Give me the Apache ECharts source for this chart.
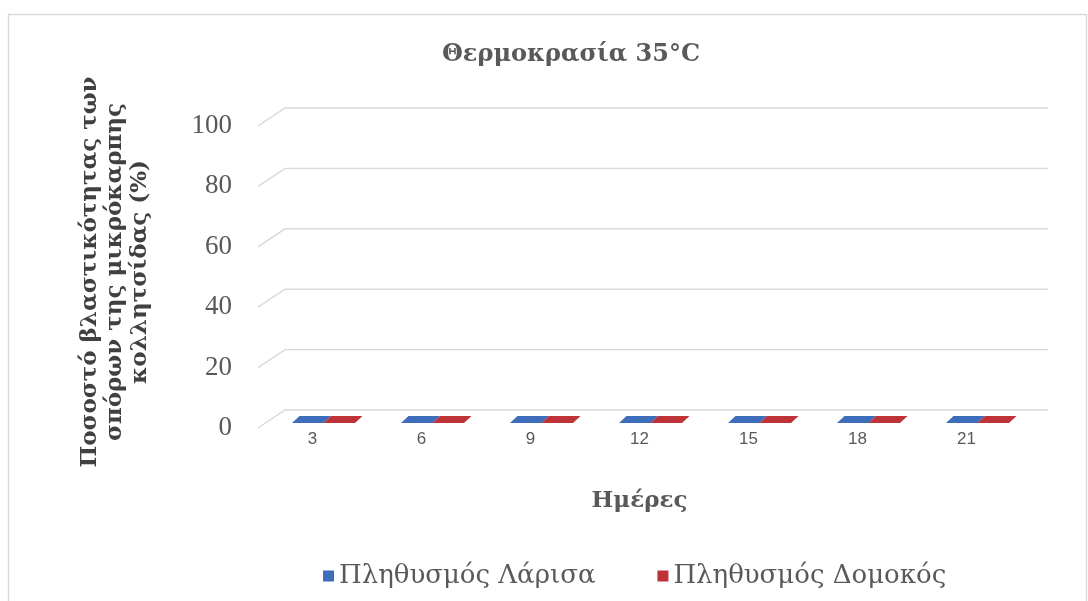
<!DOCTYPE html>
<html><head><meta charset="utf-8">
<script src="https://cdn.jsdelivr.net/npm/echarts@6/dist/echarts.min.js"></script>
<style>html,body{margin:0;padding:0;background:#fff}#c{width:1088px;height:601px}</style>
</head><body><div id="c"></div>
<script>
// ---- data ----
const categories = ['3', '6', '9', '12', '15', '18', '21'];
const seriesNames = ['Πληθυσμός Λάρισα', 'Πληθυσμός Δομοκός'];
const larisa = [0, 0, 0, 0, 0, 0, 0];
const domokos = [0, 0, 0, 0, 0, 0, 0];
const yTicks = [0, 20, 40, 60, 80, 100];
const titleText = 'Θερμοκρασία 35°C';
const xName = 'Ημέρες';
const yNameLines = ['Ποσοστό βλαστικότητας των', 'σπόρων της μικρόκαρπης', 'κολλητσίδας (%)'];

// ---- style ----
const colors = ['#3d6dbb', '#bd3338'];
const DEPTH_X = 27, DEPTH_Y = -18;   // back wall offset (pseudo 3D)
const BAR_W = 31.5;
const BAR_FRONT = [11, -5], BAR_BACK = [18.5, -12];
const GRID_COLOR = '#d9d9d9';
const TXT = '#595959';

const chart = echarts.init(document.getElementById('c'));

function gridRender(params, api) {
  const cs = params.coordSys;
  const y = api.coord([0, api.value(0)])[1];
  const x0 = cs.x;
  return {
    type: 'polyline',
    shape: { points: [[x0, y], [x0 + DEPTH_X, y + DEPTH_Y], [x0 + cs.width + DEPTH_X, y + DEPTH_Y]] },
    style: { stroke: GRID_COLOR, lineWidth: 1.4, fill: null },
    silent: true
  };
}

function barRender(sIdx) {
  return function (params, api) {
    const i = api.value(0), v = api.value(1);
    const pv = api.coord([i, v]);
    const p0 = api.coord([i, 0]);
    const cx = pv[0];
    const xl = sIdx === 0 ? cx - BAR_W : cx;
    const xr = xl + BAR_W;
    const col = colors[sIdx];
    const yTop = pv[1], yBase = p0[1];
    const fx = BAR_FRONT[0], fy = BAR_FRONT[1], bx = BAR_BACK[0], by = BAR_BACK[1];
    const children = [];
    if (yBase - yTop > 0.5) {
      children.push({
        type: 'polygon',
        shape: { points: [[xl + fx, yTop + fy], [xr + fx, yTop + fy], [xr + fx, yBase + fy], [xl + fx, yBase + fy]] },
        style: { fill: col }
      });
    }
    children.push({
      type: 'polygon',
      shape: { points: [[xl + fx, yTop + fy], [xr + fx, yTop + fy], [xr + bx, yTop + by], [xl + bx, yTop + by]] },
      style: { fill: col }
    });
    return { type: 'group', children };
  };
}

const option = {
  animation: false,
  backgroundColor: '#ffffff',
  title: {
    text: titleText, left: 566, top: 38, textAlign: 'center',
    textStyle: { fontFamily: 'DejaVu Serif', fontWeight: 'bold', fontSize: 24, color: TXT }
  },
  legend: {
    left: 318, top: 558, itemWidth: 11, itemHeight: 11, itemGap: 62, icon: 'rect',
    data: seriesNames,
    textStyle: { fontFamily: 'DejaVu Serif', fontSize: 26, color: TXT }
  },
  grid: { left: 258, right: 67, top: 126, bottom: 173 },
  xAxis: {
    type: 'category', data: categories, boundaryGap: true,
    axisLine: { show: false }, axisTick: { show: false },
    axisLabel: { margin: 3, fontFamily: 'Liberation Sans', fontSize: 17, color: TXT },
    name: xName, nameLocation: 'middle', nameGap: 62,
    nameTextStyle: { fontFamily: 'DejaVu Serif', fontWeight: 'bold', fontSize: 23, color: TXT }
  },
  yAxis: {
    type: 'value', min: 0, max: 100, interval: 20,
    axisLine: { show: false }, axisTick: { show: false }, splitLine: { show: false },
    axisLabel: { margin: 26, fontFamily: 'Liberation Serif', fontSize: 27, color: TXT }
  },
  graphic: [
    { type: 'rect', shape: { x: 8.5, y: 14.5, width: 1078, height: 620 }, style: { fill: null, stroke: '#d9d9d9', lineWidth: 1.5 }, silent: true },
    {
      type: 'text', x: 115, y: 272, rotation: Math.PI / 2,
      style: {
        text: yNameLines.join('\n'), align: 'center', verticalAlign: 'middle', lineHeight: 25,
        font: 'bold 23px "DejaVu Serif"', fill: '#404040'
      }
    }
  ],
  series: [
    { type: 'custom', name: 'grid', data: yTicks.map(v => [v]), renderItem: gridRender, encode: { y: 0 }, silent: true, z: 1 },
    { type: 'custom', name: seriesNames[0], itemStyle: { color: colors[0] }, data: larisa.map((v, i) => [i, v]), renderItem: barRender(0), encode: { x: 0, y: 1 }, z: 3 },
    { type: 'custom', name: seriesNames[1], itemStyle: { color: colors[1] }, data: domokos.map((v, i) => [i, v]), renderItem: barRender(1), encode: { x: 0, y: 1 }, z: 3 }
  ]
};
chart.setOption(option);
</script></body></html>
